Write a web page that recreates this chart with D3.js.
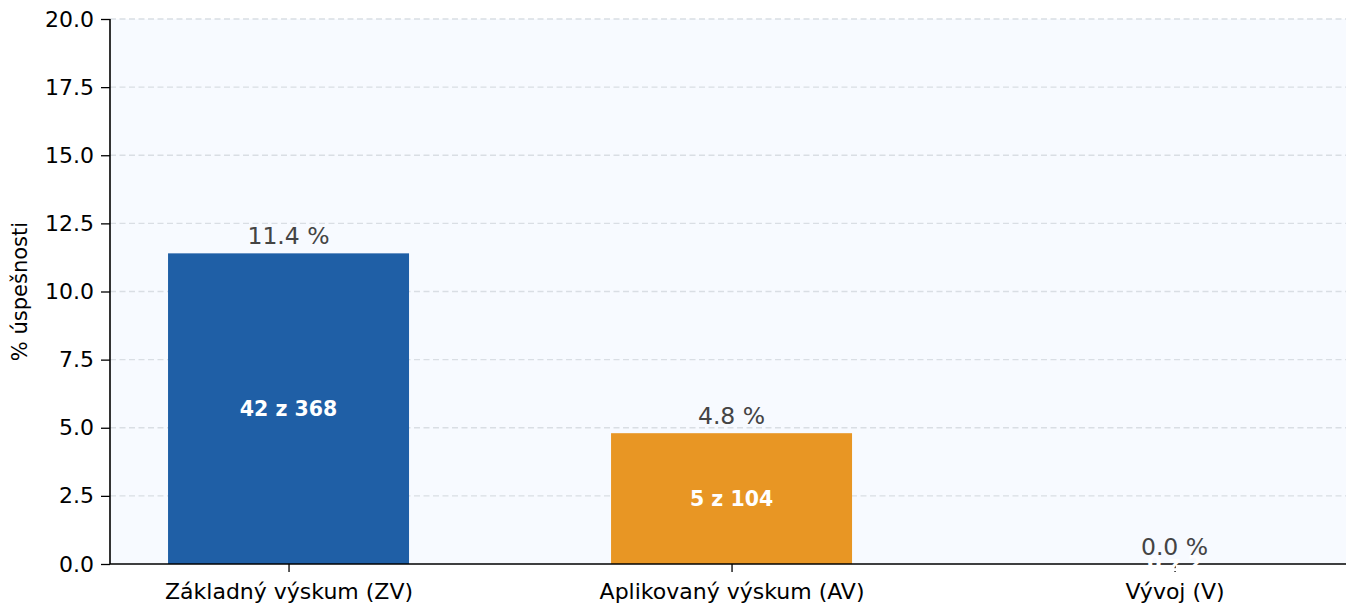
<!DOCTYPE html>
<html><head><meta charset="utf-8">
<script src="https://cdn.jsdelivr.net/npm/d3@7"></script>
<style>body{margin:0;background:#fff}svg{display:block;font-family:"DejaVu Sans",sans-serif}</style>
</head><body><svg id="c" width="1346" height="606"></svg>
<script>
const categories = ["Základný výskum (ZV)", "Aplikovaný výskum (AV)", "Vývoj (V)"];
const successRate = [11.4, 4.8, 0.0];
const successCount = [42, 5, 0];
const totalCount = [368, 104, 2];
const barColors = ["#1f5fa6", "#e89624", "#2ca02c"];
const yTicks = [0, 2.5, 5, 7.5, 10, 12.5, 15, 17.5, 20];

const svg = d3.select("#c");
const L = 110, R = 1346, T = 19, B = 564;
const x = d3.scaleLinear().domain([-0.403, 2.387]).range([L, R]);
const y = d3.scaleLinear().domain([0, 20]).range([B, T]);
const bw = 0.544;

svg.append("rect").attr("x", L).attr("y", T).attr("width", R - L).attr("height", B - T).attr("fill", "#f7faff");

svg.append("g").selectAll("line").data(yTicks.filter(d => d > 0)).join("line")
  .attr("x1", L).attr("x2", R).attr("y1", d => y(d)).attr("y2", d => y(d))
  .attr("stroke", "#d9dee4").attr("stroke-width", 1.3).attr("stroke-dasharray", "6,3.5");

const idx = categories.map((d, i) => i);
svg.append("g").selectAll("rect").data(idx).join("rect")
  .attr("x", i => x(i - bw / 2)).attr("width", i => x(i + bw / 2) - x(i - bw / 2))
  .attr("y", i => y(successRate[i])).attr("height", i => B - y(successRate[i]))
  .attr("fill", i => barColors[i]);

svg.append("g").selectAll("text").data(idx).join("text")
  .attr("x", i => x(i)).attr("y", i => y(successRate[i]) - 9)
  .attr("text-anchor", "middle").attr("font-size", 23.5).attr("fill", "#444")
  .text(i => successRate[i].toFixed(1) + " %");

const yAxis = d3.axisLeft(y).tickValues(yTicks).tickFormat(d3.format(".1f")).tickSize(9).tickPadding(7);
const gy = svg.append("g").attr("transform", `translate(${L},0)`).call(yAxis);
gy.selectAll("text").attr("font-size", 22).attr("fill", "#000").attr("font-family", "DejaVu Sans");
gy.selectAll("line").attr("stroke", "#000").attr("stroke-width", 1.3);
gy.select(".domain").attr("stroke", "#000").attr("stroke-width", 1.6).attr("d", `M0,${T}V${B}`);

const xAxis = d3.axisBottom(x).tickValues(idx).tickFormat(i => categories[i]).tickSize(8).tickPadding(11);
const gx = svg.append("g").attr("transform", `translate(0,${B})`).call(xAxis);
gx.selectAll("text").attr("font-size", 22).attr("fill", "#000").attr("font-family", "DejaVu Sans");
gx.selectAll("line").attr("stroke", "#000").attr("stroke-width", 1.3);
gx.select(".domain").attr("stroke", "#000").attr("stroke-width", 1.6).attr("d", `M${L},0H${R}`);

svg.append("g").selectAll("text").data(idx).join("text")
  .attr("x", i => x(i)).attr("y", i => (y(0) + y(successRate[i])) / 2 + 7)
  .attr("text-anchor", "middle").attr("font-size", 20.5).attr("font-weight", "bold").attr("fill", "#fff")
  .text(i => `${successCount[i]} z ${totalCount[i]}`);

svg.append("text").attr("transform", `translate(27,${(T + B) / 2}) rotate(-90)`)
  .attr("text-anchor", "middle").attr("font-size", 21).attr("fill", "#000").text("% úspešnosti");
</script></body></html>
